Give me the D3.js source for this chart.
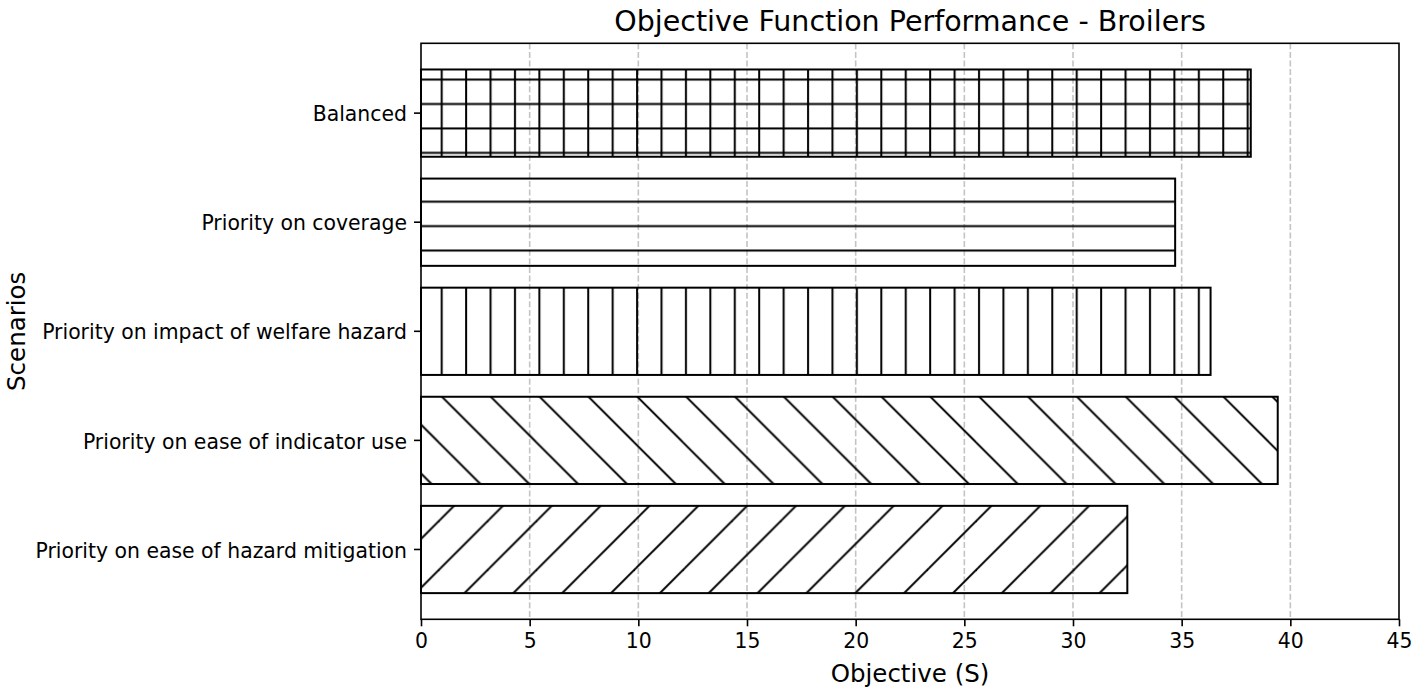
<!DOCTYPE html>
<html>
<head>
<meta charset="utf-8">
<script src="https://cdn.jsdelivr.net/npm/d3@7"></script>
<style>
  html, body { margin: 0; padding: 0; background: #fff; }
  svg { display: block; font-family: "DejaVu Sans", sans-serif; }
</style>
</head>
<body>
<svg id="chart" width="1418" height="692"></svg>
<script>
// ---- data ----
const categories = [
  "Balanced",
  "Priority on coverage",
  "Priority on impact of welfare hazard",
  "Priority on ease of indicator use",
  "Priority on ease of hazard mitigation"
];
const values = [38.18, 34.7, 36.33, 39.42, 32.5];
const hatches = ["+", "-", "|", "\\", "/"];
const xTicks = [0, 5, 10, 15, 20, 25, 30, 35, 40, 45];
const title = "Objective Function Performance - Broilers";
const xLabel = "Objective (S)";
const yLabel = "Scenarios";

// ---- layout ----
const L = 421, R = 1399, T = 43.3, B = 619.3;
const svg = d3.select("#chart");

const x = d3.scaleLinear().domain([0, 45]).range([L, R]);
const y = d3.scaleBand().domain(categories).range([T, B]).paddingInner(0.2).paddingOuter(0.24);

// ---- hatch patterns (absolute user space) ----
const defs = svg.append("defs");
const P = 24.424, D = 2 * P;
const hw = 2;
function pat(id, w, h) {
  return defs.append("pattern").attr("id", id).attr("patternUnits", "userSpaceOnUse")
    .attr("x", 0).attr("y", 0).attr("width", w).attr("height", h);
}
const vOff = 2.07, hOff = 6.31;
// '+'
let p = pat("h-plus", P, P);
p.append("line").attr("x1", vOff).attr("x2", vOff).attr("y1", -2).attr("y2", P + 2).attr("stroke", "#000").attr("stroke-width", hw);
p.append("line").attr("y1", hOff).attr("y2", hOff).attr("x1", -2).attr("x2", P + 2).attr("stroke", "#000").attr("stroke-width", hw);
// '-'
p = pat("h-minus", P, P);
p.append("line").attr("y1", hOff).attr("y2", hOff).attr("x1", -2).attr("x2", P + 2).attr("stroke", "#000").attr("stroke-width", hw);
// '|'
p = pat("h-bar", P, P);
p.append("line").attr("x1", vOff).attr("x2", vOff).attr("y1", -2).attr("y2", P + 2).attr("stroke", "#000").attr("stroke-width", hw);
// '\' : x - y = c
p = pat("h-back", D, D);
{
  const c = 45.3;
  for (const k of [-2, -1, 0, 1]) {
    const cc = c + k * D;
    p.append("line").attr("x1", cc - 5).attr("y1", -5).attr("x2", cc + D + 5).attr("y2", D + 5)
      .attr("stroke", "#000").attr("stroke-width", hw);
  }
}
// '/' : x + y = c
p = pat("h-fwd", D, D);
{
  const c = 31.8;
  for (const k of [-1, 0, 1, 2]) {
    const cc = c + k * D;
    p.append("line").attr("x1", -5).attr("y1", cc + 5).attr("x2", cc + 5).attr("y2", -5)
      .attr("stroke", "#000").attr("stroke-width", hw);
  }
}
const patId = { "+": "h-plus", "-": "h-minus", "|": "h-bar", "\\": "h-back", "/": "h-fwd" };

// ---- grid ----
svg.append("g").selectAll("line").data(xTicks.filter(t => t > 0 && t < 45)).join("line")
  .attr("x1", d => x(d)).attr("x2", d => x(d)).attr("y1", T).attr("y2", B)
  .attr("stroke", "#c4c4c4").attr("stroke-width", 1.6).attr("stroke-dasharray", "6,2.6");

// ---- bars ----
const bars = svg.append("g");
bars.selectAll("rect.fill").data(categories).join("rect")
  .attr("x", x(0)).attr("y", d => y(d))
  .attr("width", (d, i) => x(values[i]) - x(0)).attr("height", y.bandwidth())
  .attr("fill", (d, i) => `url(#${patId[hatches[i]]})`)
  .attr("stroke", "#000").attr("stroke-width", 2);

// ---- axes ----
const xAxis = d3.axisBottom(x).tickValues(xTicks).tickSize(7).tickPadding(7).tickFormat(d3.format("d"));
const gx = svg.append("g").attr("transform", `translate(0,${B})`).call(xAxis);
gx.select(".domain").remove();
gx.selectAll(".tick line").attr("stroke-width", 1.6);
gx.selectAll(".tick text").attr("font-size", 20.4).attr("fill", "#000").attr("font-family", "DejaVu Sans");

const yAxis = d3.axisLeft(y).tickSize(7).tickPadding(7);
const gy = svg.append("g").attr("transform", `translate(${L},0)`).call(yAxis);
gy.select(".domain").remove();
gy.selectAll(".tick line").attr("stroke-width", 1.6);
gy.selectAll(".tick text").attr("font-size", 20.4).attr("fill", "#000").attr("font-family", "DejaVu Sans").attr("dy", "0.4em");

// frame
svg.append("rect").attr("x", L).attr("y", T).attr("width", R - L).attr("height", B - T)
  .attr("fill", "none").attr("stroke", "#000").attr("stroke-width", 1.6);

// ---- labels ----
svg.append("text").attr("x", (L + R) / 2).attr("y", 31).attr("text-anchor", "middle")
  .attr("font-size", 28.5).text(title);
svg.append("text").attr("x", (L + R) / 2).attr("y", 682).attr("text-anchor", "middle")
  .attr("font-size", 24.5).text(xLabel);
svg.append("text").attr("transform", `translate(25,${(T + B) / 2}) rotate(-90)`).attr("text-anchor", "middle")
  .attr("font-size", 24.5).text(yLabel);
</script>
</body>
</html>
